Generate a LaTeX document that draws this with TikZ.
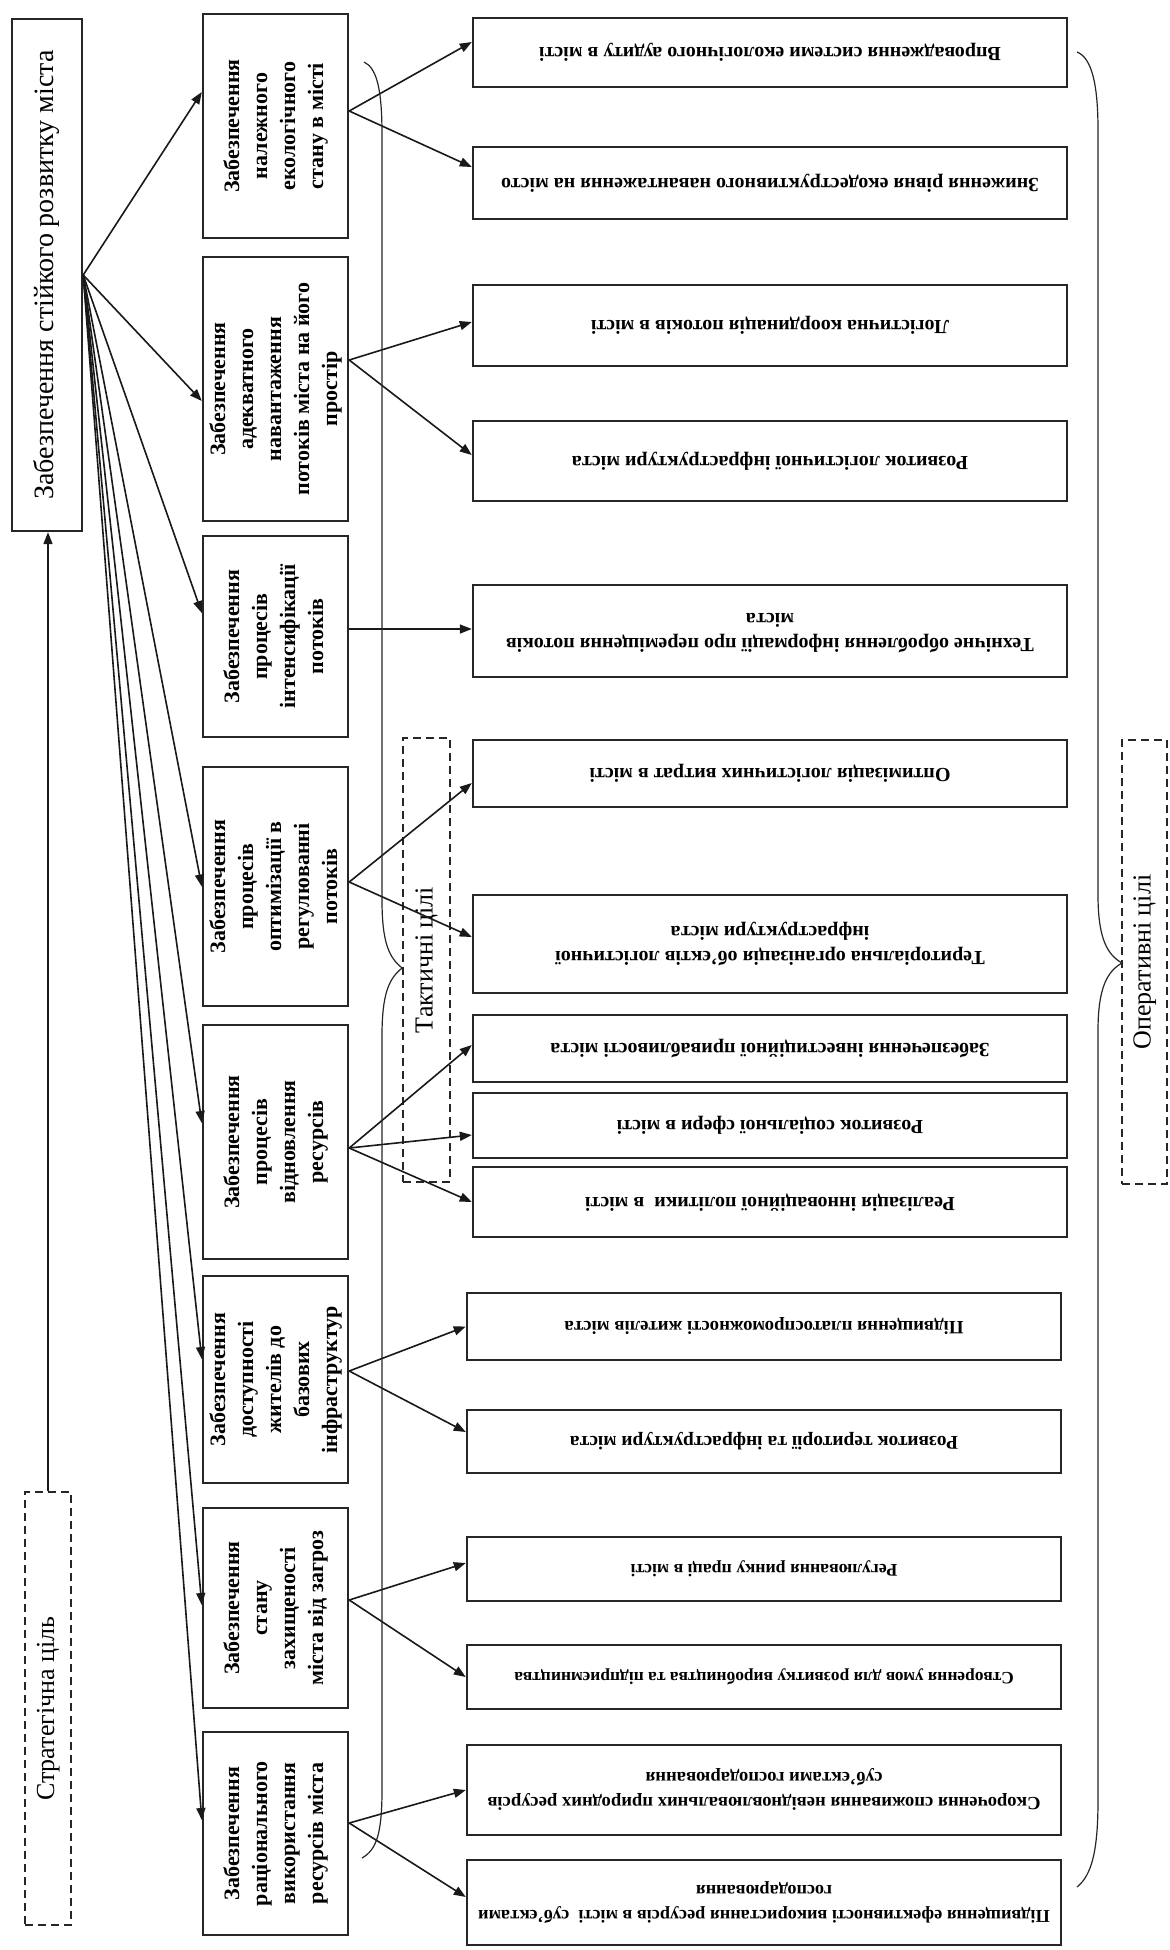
\documentclass[tikz,border=0pt]{standalone}
\usepackage{fontspec}
\setmainfont{Liberation Serif}
\usepackage{graphicx}
\usetikzlibrary{arrows.meta}
\newcommand\rotup[1]{\rotatebox{90}{\begin{tabular}{@{}c@{}}#1\end{tabular}}}
\newcommand\rotdown[1]{\rotatebox{180}{\begin{tabular}{@{}c@{}}#1\end{tabular}}}
\begin{document}
\begin{tikzpicture}[x=0.5pt,y=-0.5pt,
  mbox/.style={draw=black!85, line width=1.2pt, inner sep=0pt, minimum width=72.5pt, font=\fontsize{11}{14}\selectfont\bfseries},
  rbox/.style={draw=black!85, line width=1.2pt, inner sep=0pt, minimum width=297pt, font=\fontsize{10}{12.5}\selectfont\bfseries},
  fs/.style={font=\fontsize{#1}{12.5}\selectfont\bfseries},
  lbox/.style={draw=black!85, line width=1.2pt, inner sep=0pt, font=\fontsize{14}{16}\selectfont},
  dbox/.style={draw=black!85, dash pattern=on 4pt off 2.5pt, line width=1pt, inner sep=0pt, font=\fontsize{13}{15}\selectfont},
  conn/.style={line width=0.8pt, draw=black!90, -{Triangle[length=6pt,width=4.5pt]}},
  brace/.style={line width=0.6pt, draw=black!85}]
\fill[white] (0,0) rectangle (1169,1950);
\useasboundingbox (0,0) rectangle (1169,1950);

% strategic level
\node[lbox, minimum width=35pt, minimum height=256pt] (L) at (47,275) {\rotup{Забезпечення стійкого розвитку міста}};
\node[dbox, minimum width=23pt, minimum height=216.5pt] (S) at (48,1708.5) {\rotup{Стратегічна ціль}};

% tactical level
\node[mbox, minimum height=112pt] (B1) at (275.5,126) {\rotup{Забезпечення\\належного\\екологічного\\стану в місті}};
\node[mbox, minimum height=132pt] (B2) at (275.5,389) {\rotup{Забезпечення\\адекватного\\навантаження\\потоків міста на його\\простір}};
\node[mbox, minimum height=100.5pt] (B3) at (275.5,636.5) {\rotup{Забезпечення\\процесів\\інтенсифікації\\потоків}};
\node[mbox, minimum height=119.5pt] (B4) at (275.5,886.5) {\rotup{Забезпечення\\процесів\\оптимізації в\\регулюванні\\потоків}};
\node[mbox, minimum height=117pt] (B5) at (275.5,1142) {\rotup{Забезпечення\\процесів\\відновлення\\ресурсів}};
\node[mbox, minimum height=103.5pt] (B6) at (275.5,1379.5) {\rotup{Забезпечення\\доступності\\жителів до\\базових\\інфраструктур}};
\node[mbox, minimum height=100pt] (B7) at (275.5,1608) {\rotup{Забезпечення\\стану\\захищеності\\міста від загроз}};
\node[mbox, minimum height=101.5pt] (B8) at (275.5,1833.5) {\rotup{Забезпечення\\раціонального\\використання\\ресурсів міста}};

\node[dbox, minimum width=23.5pt, minimum height=222pt] (T) at (426.5,960) {\rotup{Тактичні цілі}};

% operational level
\node[rbox, minimum height=34.5pt] (R1) at (770,52.5) {\rotdown{Впровадження системи екологічного аудиту в місті}};
\node[rbox, minimum height=36pt] (R2) at (770,183) {\rotdown{Зниження рівня екодеструктивного навантаження на місто}};
\node[rbox, minimum height=40.5pt] (R3) at (770,325.5) {\rotdown{Логістична координація потоків в місті}};
\node[rbox, minimum height=40pt] (R4) at (770,461) {\rotdown{Розвиток логістичної інфраструктури міста}};
\node[rbox, minimum height=46pt] (R5) at (770,631) {\rotdown{Технічне оброблення інформації про переміщення потоків\\міста}};
\node[rbox, minimum height=33.5pt] (R6) at (770,773.5) {\rotdown{Оптимізація логістичних витрат в місті}};
\node[rbox, minimum height=49pt] (R7) at (770,944) {\rotdown{Територіальна організація об’єктів логістичної\\інфраструктури міста}};
\node[rbox, minimum height=33.5pt] (R8) at (770,1048.5) {\rotdown{Забезпечення інвестиційної привабливості міста}};
\node[rbox, minimum height=32.5pt] (R9) at (770,1125.5) {\rotdown{Розвиток соціальної сфери в місті}};
\node[rbox, minimum height=35pt] (R10) at (770,1202) {\rotdown{Реалізація інноваційної політики~ в місті}};
\node[rbox, fs=9.4, minimum height=33.5pt] (R11) at (764,1326.5) {\rotdown{Підвищення платоспроможності жителів міста}};
\node[rbox, fs=9.7, minimum height=31.5pt] (R12) at (764,1441.5) {\rotdown{Розвиток території та інфраструктури міста}};
\node[rbox, fs=8.9, minimum height=32pt] (R13) at (764,1569) {\rotdown{Регулювання ринку праці в місті}};
\node[rbox, fs=8.7, minimum height=32pt] (R14) at (764,1677) {\rotdown{Створення умов для розвитку виробництва та підприємництва}};
\node[rbox, fs=9.3, minimum height=45pt] (R15) at (764,1790) {\rotdown{Скорочення споживання невідновлювальних природних ресурсів\\суб’єктами господарювання}};
\node[rbox, fs=9.1, minimum height=42.5pt] (R16) at (764,1902.5) {\rotdown{Підвищення ефективності використання ресурсів в місті~ суб’єктами\\господарювання}};

\node[dbox, minimum width=22.5pt, minimum height=222pt] (O) at (1144.5,962) {\rotup{Оперативні цілі}};

% connectors: strategic -> tactical
\draw[conn] (S.north) -- (S.north |- L.south);
\draw[conn] (L.east) -- ([yshift=17pt]B1.west);
\draw[conn] (L.east) -- ([yshift=-6pt]B2.west);
\draw[conn] (L.east) -- ([yshift=11.75pt]B3.west);
\draw[conn] (L.east) -- (B4.west);
\draw[conn] (L.east) -- ([yshift=9.5pt]B5.west);
\draw[conn] (L.east) -- ([yshift=10.25pt]B6.west);
\draw[conn] (L.east) -- ([yshift=1.5pt]B7.west);
\draw[conn] (L.east) -- ([yshift=6.75pt]B8.west);

% connectors: tactical -> operational
\draw[conn] ([yshift=7.5pt]B1.east) -- ([yshift=5.25pt]R1.west);
\draw[conn] ([yshift=7.5pt]B1.east) -- ([yshift=8pt]R2.west);
\draw[conn] ([yshift=14.5pt]B2.east) -- ([yshift=1.75pt]R3.west);
\draw[conn] ([yshift=14.5pt]B2.east) -- ([yshift=3pt]R4.west);
\draw[conn] ([yshift=3.75pt]B3.east) -- ([yshift=1pt]R5.west);
\draw[conn] ([yshift=2.25pt]B4.east) -- ([yshift=-4.75pt]R6.west);
\draw[conn] ([yshift=2.25pt]B4.east) -- ([yshift=3.5pt]R7.west);
\draw[conn] ([yshift=-3pt]B5.east) -- ([yshift=1.75pt]R8.west);
\draw[conn] ([yshift=-3pt]B5.east) -- ([yshift=-4.75pt]R9.west);
\draw[conn] ([yshift=-3pt]B5.east) -- (R10.west);
\draw[conn] ([yshift=4.25pt]B6.east) -- (R11.west);
\draw[conn] ([yshift=4.25pt]B6.east) -- ([yshift=4.75pt]R12.west);
\draw[conn] ([yshift=4pt]B7.east) -- ([yshift=3pt]R13.west);
\draw[conn] ([yshift=4pt]B7.east) -- (R14.west);
\draw[conn] ([yshift=5.25pt]B8.east) -- (R15.west);
\draw[conn] ([yshift=5.25pt]B8.east) -- ([yshift=2.75pt]R16.west);

% braces
\draw[brace] (364,62) .. controls (377,68) and (382,90) .. (382,135) -- (382,900)
  .. controls (382,945) and (390,958) .. (402,968)
  .. controls (390,978) and (382,991) .. (382,1036) -- (382,1790)
  .. controls (382,1835) and (376,1850) .. (362,1858);
\draw[brace] (1077,52) .. controls (1092,58) and (1098,85) .. (1098,130) -- (1098,895)
  .. controls (1098,940) and (1108,955) .. (1122,963)
  .. controls (1108,971) and (1098,986) .. (1098,1031) -- (1098,1800)
  .. controls (1098,1850) and (1092,1875) .. (1077,1887);
\end{tikzpicture}
\end{document}
